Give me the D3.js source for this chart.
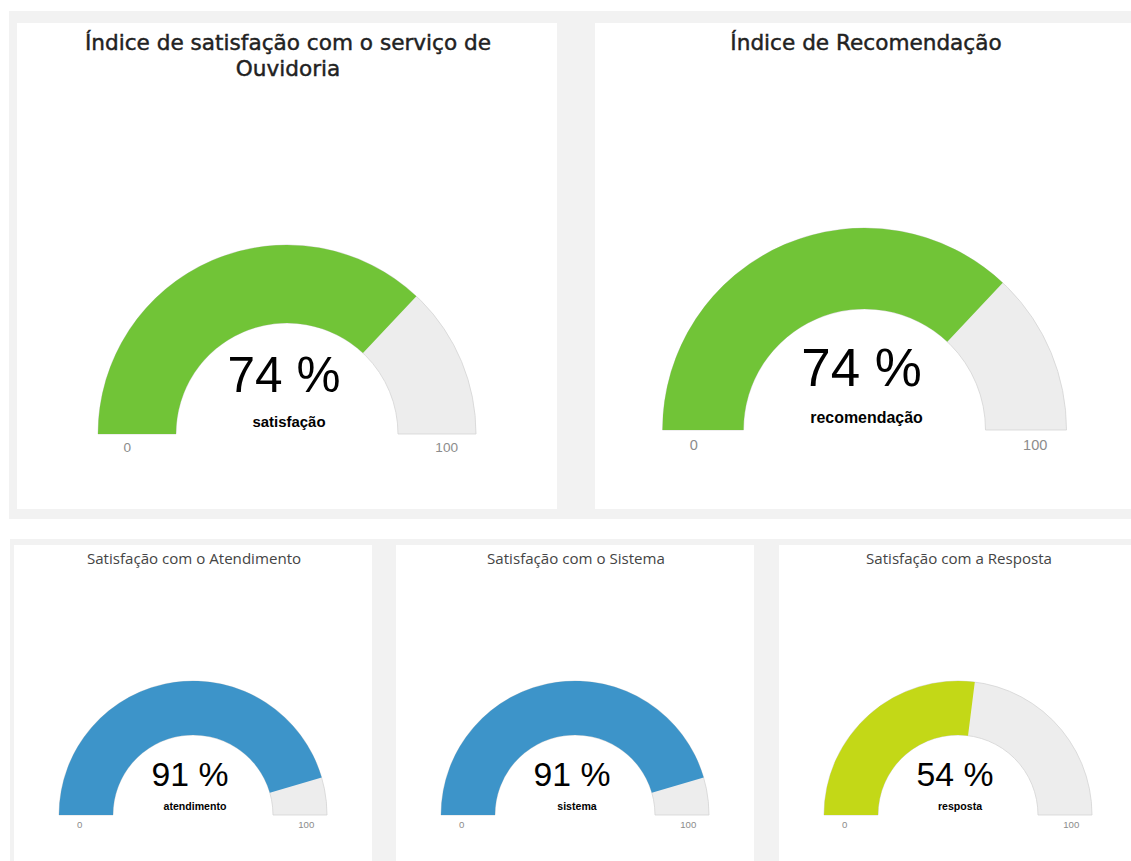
<!DOCTYPE html>
<html>
<head>
<meta charset="utf-8">
<script src="https://cdnjs.cloudflare.com/ajax/libs/d3/7.8.5/d3.min.js"></script>
<style>
    body { margin: 0; background: #ffffff; }
    svg { display: block; }
</style>
</head>
<body>
<div id="gauges-outer"></div>
<script>
// gauge data
var gaugeTitles = [
    ["Índice de satisfação com o serviço de", "Ouvidoria"],
    ["Índice de Recomendação"],
    ["Satisfação com o Atendimento"],
    ["Satisfação com o Sistema"],
    ["Satisfação com a Resposta"]
];
var gaugeValues = [74, 74, 91, 91, 54];
var gaugeLabels = ["satisfação", "recomendação", "atendimento", "sistema", "resposta"];
var gaugeMin = 0;
var gaugeMax = 100;
var gaugeSuffix = " %";

// styles
var gaugeColors = ["#71c437", "#71c437", "#3d94c9", "#3d94c9", "#c3d817"];
var gaugeBack = "#ededed";
var pageGrey = "#f2f2f2";

// layout: panel boxes and gauge geometry (positions only, no data)
var panels = [
    {x: 17, y: 23, w: 540, h: 486, big: true, cx: 287, cy: 434, r: 189, ri: 111},
    {x: 595, y: 23, w: 540, h: 486, big: true, cx: 864.5, cy: 430, r: 202, ri: 121},
    {x: 14, y: 545, w: 358, h: 330, big: false, cx: 193, cy: 815, r: 134, ri: 80},
    {x: 396, y: 545, w: 358, h: 330, big: false, cx: 575, cy: 815, r: 134, ri: 80},
    {x: 779, y: 545, w: 358, h: 330, big: false, cx: 958, cy: 815, r: 134, ri: 80}
];

function GaugeBoard() {
    var self = this;
    self.init();
}

GaugeBoard.prototype.init = function () {
    var self = this;
    self.width = 1131;
    self.height = 861;

    self.svg = d3.select("#gauges-outer").append("svg")
        .attr("width", self.width)
        .attr("height", self.height);

    // grey rows behind the white cards
    self.svg.append("rect")
        .attr("x", 9).attr("y", 11)
        .attr("width", self.width).attr("height", 508)
        .attr("fill", pageGrey);
    self.svg.append("rect")
        .attr("x", 10).attr("y", 539)
        .attr("width", self.width).attr("height", 400)
        .attr("fill", pageGrey);

    self.update();
};

GaugeBoard.prototype.update = function () {
    var self = this;

    var angle = d3.scaleLinear()
        .domain([gaugeMin, gaugeMax])
        .range([-Math.PI / 2, Math.PI / 2]);

    var cards = self.svg.selectAll("g.card")
        .data(panels.map(function (p, i) {
            return {p: p, i: i};
        }))
        .enter()
        .append("g")
        .attr("class", "card");

    cards.append("rect")
        .attr("x", function (d) { return d.p.x; })
        .attr("y", function (d) { return d.p.y; })
        .attr("width", function (d) { return d.p.w; })
        .attr("height", function (d) { return d.p.h; })
        .attr("fill", "#ffffff");

    // titles (one text, one tspan per line)
    var titles = cards.append("text")
        .attr("text-anchor", "middle")
        .attr("fill", function (d) { return d.p.big ? "#222222" : "#444444"; })
        .attr("stroke", function (d) { return d.p.big ? "#222222" : "none"; })
        .attr("stroke-width", 0.45)
        .style("font-family", function (d) {
            return d.p.big ? "'DejaVu Sans', Verdana, sans-serif" : "'Open Sans', sans-serif";
        })
        .style("font-size", function (d) { return d.p.big ? "21.6px" : "15.1px"; });

    titles.selectAll("tspan")
        .data(function (d) {
            return gaugeTitles[d.i].map(function (line, k) {
                return {line: line, k: k, p: d.p};
            });
        })
        .enter()
        .append("tspan")
        .attr("x", function (d) { return d.p.x + d.p.w / 2 + 1; })
        .attr("y", function (d) { return d.p.big ? 50 + d.k * 26 : 564; })
        .text(function (d) { return d.line; });

    // gauge arcs
    var gauges = cards.append("g")
        .attr("transform", function (d) {
            return "translate(" + d.p.cx + "," + d.p.cy + ")";
        });

    gauges.append("path")
        .attr("d", function (d) {
            return d3.arc()
                .innerRadius(d.p.ri)
                .outerRadius(d.p.r)
                .startAngle(angle(gaugeMin))
                .endAngle(angle(gaugeMax))();
        })
        .attr("fill", gaugeBack)
        .attr("stroke", "#d4d4d4")
        .attr("stroke-width", 0.8);

    gauges.append("path")
        .attr("d", function (d) {
            return d3.arc()
                .innerRadius(d.p.ri)
                .outerRadius(d.p.r)
                .startAngle(angle(gaugeMin))
                .endAngle(angle(gaugeValues[d.i]))();
        })
        .attr("fill", function (d) { return gaugeColors[d.i]; });

    // value
    gauges.append("text")
        .attr("x", -3)
        .attr("y", function (d) { return -0.22 * d.p.r; })
        .attr("text-anchor", "middle")
        .attr("fill", "#010101")
        .style("font-family", "'Liberation Sans', Arial, sans-serif")
        .style("font-size", function (d) { return (d.p.big ? 0.262 : 0.252) * d.p.r + "px"; })
        .text(function (d) { return gaugeValues[d.i] + gaugeSuffix; });

    // label
    gauges.append("text")
        .attr("x", 2)
        .attr("y", function (d) { return -0.036 * d.p.r; })
        .attr("text-anchor", "middle")
        .attr("fill", "#010101")
        .style("font-family", "'Liberation Sans', Arial, sans-serif")
        .style("font-weight", "bold")
        .style("font-size", function (d) { return (0.079 * d.p.r) + "px"; })
        .text(function (d) { return gaugeLabels[d.i]; });

    // min / max
    gauges.selectAll("text.range")
        .data(function (d) {
            return [
                {v: gaugeMin, side: -1, r: d.p.r},
                {v: gaugeMax, side: 1, r: d.p.r}
            ];
        })
        .enter()
        .append("text")
        .attr("class", "range")
        .attr("x", function (d) { return d.side * 0.845 * d.r; })
        .attr("y", function (d) { return 0.097 * d.r; })
        .attr("text-anchor", "middle")
        .attr("fill", "#8c8c8c")
        .style("font-family", "'Liberation Sans', Arial, sans-serif")
        .style("font-size", function (d) { return (0.072 * d.r) + "px"; })
        .text(function (d) { return d.v; });
};

var board = new GaugeBoard();
</script>
</body>
</html>
